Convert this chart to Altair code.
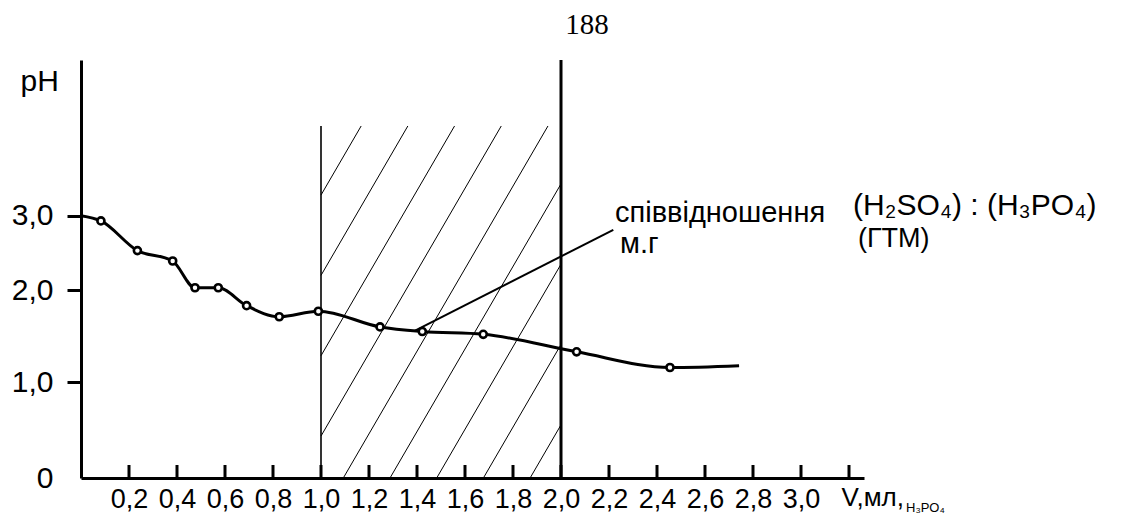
import altair as alt
import numpy as np
import pandas as pd

# ---- data ----
V_ML = [0.0, 0.083, 0.235, 0.382, 0.475, 0.572, 0.690, 0.826, 0.989,
        1.246, 1.422, 1.676, 2.065, 2.454, 2.742]
PH = [3.00, 2.93, 2.53, 2.39, 2.03, 2.03, 1.83, 1.71, 1.77,
      1.60, 1.55, 1.52, 1.33, 1.16, 1.18]
MEASURED = [False] + [True] * 13 + [False]

X_TICKS = [0.2, 0.4, 0.6, 0.8, 1.0, 1.2, 1.4, 1.6, 1.8, 2.0,
           2.2, 2.4, 2.6, 2.8, 3.0, 3.2]
X_LABELED = [0.2, 0.4, 0.6, 0.8, 1.0, 1.2, 1.4, 1.6, 1.8, 2.0,
             2.2, 2.4, 2.6, 2.8, 3.0]
Y_TICKS = [0, 1, 2, 3]

ZONE = [1.0, 2.0]          # hatched interval
ZONE_TOP = 4.21            # top of the thin boundary line / hatch
LEADER = [(1.392, 1.56), (2.218, 2.81)]

TEXTS = ["співвідношення", "м.г"]
TEXT_X = [2.225, 2.246]
TEXT_Y = [2.92, 2.50]
GTM = "(ГТМ)"
GTM_X, GTM_Y = 3.2375, 2.58
FORMULA = "(H₂SO₄) : (H₃PO₄)"
FORMULA_X, FORMULA_Y = 3.217, 3.01

# ---- layout (pixels) ----
W, H = 783, 418
PX_PER_ML = 240.0
X_MAX = W / PX_PER_ML
Y_DOMAIN = [0, 1, 2, 3, 5.1]
Y_RANGE = [H, 322.3, 230, 155.7, 0]
FONT = "Liberation Sans"


def ypx(v):
    return float(np.interp(v, Y_DOMAIN, Y_RANGE))


def yval(p):
    return float(np.interp(p, Y_RANGE[::-1], Y_DOMAIN[::-1]))


# hatch lines, computed in pixel space and converted back to data units
SLOPE, STEP, X0 = 1.72, 46.7, 262.3
xl, xr = ZONE[0] * PX_PER_ML, ZONE[1] * PX_PER_ML
yt, yb = ypx(ZONE_TOP), H
hatch = []
for k in range(-10, 10):
    xb = X0 + STEP * k
    ya = max(yt, H - SLOPE * (xr - xb))
    yz = min(yb, H - SLOPE * (xl - xb))
    if ya < yz - 1:
        xa = xb + (H - ya) / SLOPE
        xz = xb + (H - yz) / SLOPE
        hatch.append({"x": xz / PX_PER_ML, "y": yval(yz),
                      "x2": xa / PX_PER_ML, "y2": yval(ya)})
hatch_df = pd.DataFrame(hatch)

curve = pd.DataFrame({"v": V_ML, "ph": PH, "m": MEASURED})
pts = curve[curve["m"]]

xscale = alt.Scale(domain=[0, X_MAX], nice=False, zero=False)
yscale = alt.Scale(domain=Y_DOMAIN, range=Y_RANGE, nice=False, zero=False)

xaxis = alt.Axis(values=X_LABELED, ticks=False, tickSize=0, grid=False,
                 labelExpr="replace(format(datum.value, '.1f'), '.', ',')",
                 labelFont=FONT, labelFontSize=27, labelColor="black",
                 labelPadding=8, domainColor="black", domainWidth=3,
                 title="V,мл,", titleFont=FONT, titleFontSize=26,
                 titleFontWeight="normal", titleColor="black",
                 titleX=760, titleY=27, titleAlign="left",
                 titleBaseline="alphabetic", titleAnchor="start")
yaxis = alt.Axis(values=Y_TICKS, grid=False, tickSize=14, tickWidth=3,
                 tickColor="black",
                 tickOpacity={"condition": {"test": "datum.value === 0", "value": 0}, "value": 1},
                 labelExpr="datum.value === 0 ? '0' : replace(format(datum.value, '.1f'), '.', ',')",
                 labelFont=FONT, labelFontSize=30, labelColor="black",
                 labelAlign="right", labelBaseline="middle",
                 labelPadding=14, domainColor="black", domainWidth=3,
                 title="pH", titleFont=FONT, titleFontSize=30,
                 titleFontWeight="normal", titleColor="black", titleAngle=0,
                 titleX=-61, titleY=30, titleAlign="left",
                 titleBaseline="alphabetic", titleAnchor="start")

base_x = alt.X("v:Q", scale=xscale, axis=xaxis)
base_y = alt.Y("ph:Q", scale=yscale, axis=yaxis)

hatch_layer = alt.Chart(hatch_df).mark_rule(color="black", strokeWidth=1).encode(
    x=alt.X("x:Q", scale=xscale), y=alt.Y("y:Q", scale=yscale),
    x2="x2:Q", y2="y2:Q")

thin = alt.Chart(pd.DataFrame({"x": [ZONE[0]], "y": [0.0], "y2": [ZONE_TOP]})).mark_rule(
    color="black", strokeWidth=1.6).encode(
    x=alt.X("x:Q", scale=xscale), y=alt.Y("y:Q", scale=yscale), y2="y2:Q")
thick = alt.Chart(pd.DataFrame({"x": [ZONE[1]], "y": [0.0], "y2": [Y_DOMAIN[-1]]})).mark_rule(
    color="black", strokeWidth=3).encode(
    x=alt.X("x:Q", scale=xscale), y=alt.Y("y:Q", scale=yscale), y2="y2:Q")

leader = alt.Chart(pd.DataFrame({"x": [LEADER[0][0]], "y": [LEADER[0][1]],
                                 "x2": [LEADER[1][0]], "y2": [LEADER[1][1]]})).mark_rule(
    color="black", strokeWidth=2).encode(
    x=alt.X("x:Q", scale=xscale), y=alt.Y("y:Q", scale=yscale), x2="x2:Q", y2="y2:Q")

xticks = alt.Chart(pd.DataFrame({"x": X_TICKS})).mark_rule(color="black", strokeWidth=3).encode(
    x=alt.X("x:Q", scale=xscale), y=alt.value(H), y2=alt.value(H - 13))

line = alt.Chart(curve).mark_line(color="black", strokeWidth=3, interpolate="monotone").encode(
    x=base_x, y=base_y)
points = alt.Chart(pts).mark_point(shape="circle", filled=True, fill="white", stroke="black",
                                   strokeWidth=2.6, size=50, opacity=1).encode(
    x=alt.X("v:Q", scale=xscale), y=alt.Y("ph:Q", scale=yscale))

ann = alt.Chart(pd.DataFrame({"x": TEXT_X, "y": TEXT_Y, "t": TEXTS})).mark_text(
    font=FONT, fontSize=29, align="left", baseline="alphabetic", color="black").encode(
    x=alt.X("x:Q", scale=xscale), y=alt.Y("y:Q", scale=yscale), text="t:N")
gtm = alt.Chart(pd.DataFrame({"x": [GTM_X], "y": [GTM_Y], "t": [GTM]})).mark_text(
    font=FONT, fontSize=27, align="left", baseline="alphabetic", color="black").encode(
    x=alt.X("x:Q", scale=xscale), y=alt.Y("y:Q", scale=yscale), text="t:N")
formula = alt.Chart(pd.DataFrame({"x": [FORMULA_X], "y": [FORMULA_Y], "t": [FORMULA]})).mark_text(
    font=FONT, fontSize=30, align="left", baseline="alphabetic", color="black").encode(
    x=alt.X("x:Q", scale=xscale), y=alt.Y("y:Q", scale=yscale), text="t:N")
sub = alt.Chart(pd.DataFrame({"x": [3.4375], "t": ["H₃PO₄"]})).mark_text(
    font=FONT, fontSize=13, align="left", baseline="alphabetic", color="black").encode(
    x=alt.X("x:Q", scale=xscale), y=alt.value(H + 34), text="t:N")
page = alt.Chart(pd.DataFrame({"x": [2.108], "t": ["188"]})).mark_text(
    font="Liberation Serif", fontSize=29, align="center", baseline="alphabetic", color="black").encode(
    x=alt.X("x:Q", scale=xscale), y=alt.value(-26), text="t:N")

chart = alt.layer(hatch_layer, thin, thick, leader, line, points, xticks,
                  ann, gtm, formula, sub, page).properties(
    width=W, height=H,
    autosize=alt.AutoSizeParams(type="none"),
    padding={"left": 73, "top": 52, "right": 252, "bottom": 39},
    background="white",
).configure_view(stroke=None)

chart.save("out.html", embed_options={"renderer": "svg", "actions": False})
